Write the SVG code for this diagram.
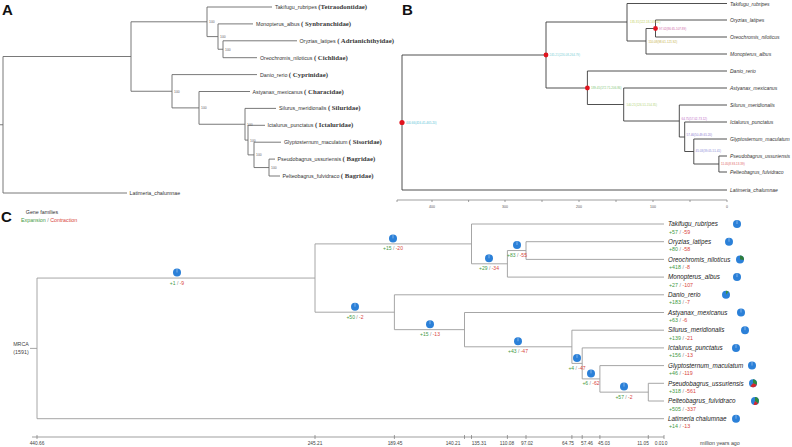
<svg xmlns="http://www.w3.org/2000/svg" width="792" height="447" viewBox="0 0 792 447">
<style>
.la{stroke:#6a6a6a;stroke-width:0.9;fill:none}
.lb{stroke:#3c3c3c;stroke-width:0.9;fill:none}
.lc{stroke:#9c9c9c;stroke-width:0.9;fill:none}
.ax{stroke:#777;stroke-width:0.7;fill:none}
.ttl{font-family:"Liberation Sans",Arial,sans-serif;font-weight:bold;font-size:15px;fill:#111}
.sa{font-family:"Liberation Sans",Arial,sans-serif;font-size:5.3px;fill:#333}
.fam{font-family:"Liberation Serif","Times New Roman",serif;font-weight:bold;font-size:6.8px;fill:#3a3a3a}
.bs{font-family:"Liberation Sans",Arial,sans-serif;font-size:3.4px;fill:#666}
.sb{font-family:"Liberation Sans",Arial,sans-serif;font-style:italic;font-size:5px;fill:#333}
.nl{font-family:"Liberation Sans",Arial,sans-serif;font-size:3px}
.axt{font-family:"Liberation Sans",Arial,sans-serif;font-size:3.5px;fill:#555;text-anchor:middle}
.sc{font-family:"Liberation Sans",Arial,sans-serif;font-style:italic;font-size:6.3px;fill:#222}
.cn{font-family:"Liberation Sans",Arial,sans-serif;font-size:5px;text-anchor:middle}
.ct{font-family:"Liberation Sans",Arial,sans-serif;font-size:5.3px}
.g{fill:#3f9a3f}
.r{fill:#d8453c}
.sl{fill:#888}
.axc{font-family:"Liberation Sans",Arial,sans-serif;font-size:4.8px;fill:#444;text-anchor:middle}
.pie{fill:#2b80d8}
.tk{stroke:#d6e7f8;stroke-width:0.5}
.dot{fill:#e0141e}
</style>
<defs>
<g id="pie"><circle r="4" class="pie"/><line x1="0" y1="0" x2="0" y2="-3.6" class="tk"/></g>
</defs>
<rect width="792" height="447" fill="#fff"/>

<!-- ================= PANEL A ================= -->
<text x="2" y="15" class="ttl">A</text>
<g id="a-edges">
<path class="la" d="M0 124.75H3M3 56.5V193M3 56.5H131M3 193H127
M131 21.8V91.25M131 21.8H207M207 7V36.6M207 7H272M207 36.6H218M218 23.9V49.25M218 23.9H253M218 49.25H223M223 40.8V57.7M223 40.8H297M223 57.7H257
M131 91.25H172M172 74.6V107.9M172 74.6H257M172 107.9H199M199 91.5V124.25M199 91.5H250M199 124.25H245M245 108.4V140.1M245 108.4H276M245 140.1H248M248 125.3V154.9M248 125.3H265M248 154.9H254M254 142.2V167.55M254 142.2H281M254 167.55H269M269 159.1V176M269 159.1H275M269 176H280"/>
</g>
<g id="a-support">
<text x="209" y="23.3" class="bs">100</text>
<text x="220" y="38.1" class="bs">100</text>
<text x="225" y="50.8" class="bs">100</text>
<text x="174" y="92.8" class="bs">100</text>
<text x="201" y="109.4" class="bs">100</text>
<text x="247" y="125.8" class="bs">100</text>
<text x="250" y="141.6" class="bs">100</text>
<text x="256" y="156.4" class="bs">100</text>
<text x="271" y="169" class="bs">100</text>
</g>
<g id="a-tips">
<g id="a-takifugu"><text x="275" y="9" class="sa">Takifugu_rubripes <tspan class="fam">(Tetraodontidae)</tspan></text></g>
<g id="a-monopterus"><text x="256" y="25.9" class="sa">Monopterus_albus <tspan class="fam">( Synbranchidae)</tspan></text></g>
<g id="a-oryzias"><text x="299.5" y="42.8" class="sa">Oryzias_latipes <tspan class="fam">( Adrianichthyidae)</tspan></text></g>
<g id="a-oreochromis"><text x="260" y="59.7" class="sa">Oreochromis_niloticus <tspan class="fam">( Cichlidae)</tspan></text></g>
<g id="a-danio"><text x="260" y="76.6" class="sa">Danio_rerio <tspan class="fam">( Cyprinidae)</tspan></text></g>
<g id="a-astyanax"><text x="252.5" y="93.5" class="sa">Astyanax_mexicanus <tspan class="fam">( Characidae)</tspan></text></g>
<g id="a-silurus"><text x="279" y="110.4" class="sa">Silurus_meridionalis <tspan class="fam">( Siluridae)</tspan></text></g>
<g id="a-ictalurus"><text x="267.5" y="127.3" class="sa">Ictalurus_punctatus <tspan class="fam">( Ictaluridae)</tspan></text></g>
<g id="a-glyptosternum"><text x="284" y="144.2" class="sa">Glyptosternum_maculatum <tspan class="fam">( Sisoridae)</tspan></text></g>
<g id="a-pseudobagrus"><text x="277.5" y="161.1" class="sa">Pseudobagrus_ussuriensis <tspan class="fam">( Bagridae)</tspan></text></g>
<g id="a-pelteobagrus"><text x="282.5" y="178" class="sa">Pelteobagrus_fulvidraco <tspan class="fam">( Bagridae)</tspan></text></g>
<g id="a-latimeria"><text x="129.5" y="195" class="sa">Latimeria_chalumnae</text></g>
</g>

<!-- ================= PANEL B ================= -->
<text x="402" y="15" class="ttl">B</text>
<g id="b-edges">
<path class="lb" d="M402 55V190M402 55H546M402 190H727
M546 22V88M546 22H627M627 3.5V41M627 3.5H727M627 41H646M646 28.5V54M646 28.5H655.5M655.5 20V37M655.5 20H727M655.5 37H727M646 54H727
M546 88H587.4M587.4 71V104.5M587.4 71H727M587.4 104.5H623.7M623.7 88V121M623.7 88H727M623.7 121H679.3M679.3 105V137M679.3 105H727M679.3 137H684.7M684.7 122V151.5M684.7 122H727M684.7 151.5H693.8M693.8 139V164M693.8 139H727M693.8 164H718.9M718.9 156V172M718.9 156H727M718.9 172H727"/>
</g>
<g id="b-nodes">
<circle cx="402" cy="122.5" r="2.6" class="dot"/>
<circle cx="546" cy="55" r="2.4" class="dot"/>
<circle cx="587.4" cy="88" r="2.4" class="dot"/>
<circle cx="655.5" cy="28.5" r="2.4" class="dot"/>
<text x="406" y="123.5" class="nl" fill="#5cc6d8">440.66(416.41-465.20)</text>
<text x="549.5" y="56" class="nl" fill="#7ccfd6">245.21(226.08-264.79)</text>
<text x="591" y="89" class="nl" fill="#86c77a">189.45(172.71-206.86)</text>
<text x="626.5" y="105.5" class="nl" fill="#b3d47c">140.21(126.51-154.35)</text>
<text x="630" y="23" class="nl" fill="#c2cf5e">135.31(122.18-149.02)</text>
<text x="648.5" y="42.5" class="nl" fill="#c6b14c">110.08(98.61-121.92)</text>
<text x="659" y="29.5" class="nl" fill="#cf67a8">97.02(86.65-107.89)</text>
<text x="681.5" y="120" class="nl" fill="#c070c8">64.75(57.02-73.12)</text>
<text x="686.5" y="136" class="nl" fill="#8e80d2">57.46(50.49-65.20)</text>
<text x="695.5" y="151.5" class="nl" fill="#8a8ad6">45.03(39.05-51.41)</text>
<text x="721" y="164.5" class="nl" fill="#e06262">11.05(8.93-13.39)</text>
</g>
<g id="b-tips">
<text x="730" y="5.5" class="sb">Takifugu_rubripes</text>
<text x="730" y="22" class="sb">Oryzias_latipes</text>
<text x="730" y="39" class="sb">Oreochromis_niloticus</text>
<text x="730" y="56" class="sb">Monopterus_albus</text>
<text x="730" y="73" class="sb">Danio_rerio</text>
<text x="730" y="90" class="sb">Astyanax_mexicanus</text>
<text x="730" y="107" class="sb">Silurus_meridionalis</text>
<text x="730" y="124" class="sb">Ictalurus_punctatus</text>
<text x="730" y="141" class="sb">Glyptosternum_maculatum</text>
<text x="730" y="158" class="sb">Pseudobagrus_ussuriensis</text>
<text x="730" y="174" class="sb">Pelteobagrus_fulvidraco</text>
<text x="730" y="192" class="sb">Latimeria_chalumnae</text>
</g>
<g id="b-axis">
<path class="ax" d="M397 200H727M397 200V202M432 200V202M468.6 200V202M505 200V202M542 200V202M579 200V202M616 200V202M653 200V202M690 200V202M727 200V202"/>
<text x="432" y="208" class="axt">400</text>
<text x="505" y="208" class="axt">300</text>
<text x="579" y="208" class="axt">200</text>
<text x="653" y="208" class="axt">100</text>
<text x="727" y="208" class="axt">0</text>
</g>

<!-- ================= PANEL C ================= -->
<text x="1" y="222" class="ttl" font-size="16">C</text>
<g id="c-legend">
<text x="42" y="214" class="ct" text-anchor="middle" fill="#333" font-size="4.8">Gene families</text>
<text x="21" y="221.5" class="ct"><tspan class="g">Expansion</tspan><tspan class="sl"> / </tspan><tspan class="r">Contraction</tspan></text>
</g>
<g id="c-edges">
<path class="lc" d="M30 348.4H37M37 278.05V418.7M37 278.05H315M37 418.7H664
M315 243.9V312.2M315 243.9H471.5M471.5 224V263.8M471.5 224H664M471.5 263.8H507.4M507.4 250.55V277.1M507.4 250.55H526M526 241.7V259.4M526 241.7H664M526 259.4H664M507.4 277.1H664
M315 312.2H394.4M394.4 294.8V329.65M394.4 294.8H664M394.4 329.65H464.5M464.5 312.5V346.8M464.5 312.5H664M464.5 346.8H571.9M571.9 330.2V363.4M571.9 330.2H664M571.9 363.4H582.2M582.2 347.9V378.9M582.2 347.9H664M582.2 378.9H599.9M599.9 365.6V392.15M599.9 365.6H664M599.9 392.15H648.3M648.3 383.3V401M648.3 383.3H664M648.3 401H664"/>
</g>
<g id="c-root"><text x="21" y="346" class="ct" text-anchor="middle" fill="#444" font-size="5">MRCA</text><text x="21" y="354" class="ct" text-anchor="middle" fill="#444" font-size="5">(1591)</text></g>
<g id="c-branch-events">
<use href="#pie" x="177" y="272.5"/><text x="177" y="284.5" class="cn"><tspan class="g">+1</tspan><tspan class="sl"> / </tspan><tspan class="r">-9</tspan></text>
<use href="#pie" x="393" y="238.4"/><text x="393" y="250.4" class="cn"><tspan class="g">+15</tspan><tspan class="sl"> / </tspan><tspan class="r">-20</tspan></text>
<use href="#pie" x="355" y="306.7"/><text x="355" y="318.7" class="cn"><tspan class="g">+50</tspan><tspan class="sl"> / </tspan><tspan class="r">-2</tspan></text>
<use href="#pie" x="489" y="258.3"/><text x="489" y="270.3" class="cn"><tspan class="g">+29</tspan><tspan class="sl"> / </tspan><tspan class="r">-34</tspan></text>
<use href="#pie" x="517" y="245"/><text x="517" y="257" class="cn"><tspan class="g">+83</tspan><tspan class="sl"> / </tspan><tspan class="r">-55</tspan></text>
<use href="#pie" x="430" y="324.2"/><text x="430" y="336.2" class="cn"><tspan class="g">+15</tspan><tspan class="sl"> / </tspan><tspan class="r">-13</tspan></text>
<use href="#pie" x="518" y="341.3"/><text x="518" y="353.3" class="cn"><tspan class="g">+43</tspan><tspan class="sl"> / </tspan><tspan class="r">-47</tspan></text>
<use href="#pie" x="577" y="357.9"/><text x="577" y="369.9" class="cn"><tspan class="g">+4</tspan><tspan class="sl"> / </tspan><tspan class="r">-47</tspan></text>
<use href="#pie" x="591" y="373.4"/><text x="591" y="385.4" class="cn"><tspan class="g">+6</tspan><tspan class="sl"> / </tspan><tspan class="r">-62</tspan></text>
<use href="#pie" x="624" y="386.6"/><text x="624" y="398.6" class="cn"><tspan class="g">+57</tspan><tspan class="sl"> / </tspan><tspan class="r">-2</tspan></text>
</g>
<g id="c-tips">
<g id="c-takifugu"><text x="668" y="226.2" class="sc">Takifugu_rubripes</text><text x="669" y="233.5" class="ct"><tspan class="g">+57</tspan><tspan class="sl"> / </tspan><tspan class="r">-59</tspan></text><use href="#pie" x="737" y="224"/></g>
<g id="c-oryzias"><text x="668" y="243.9" class="sc">Oryzias_latipes</text><text x="669" y="251.2" class="ct"><tspan class="g">+80</tspan><tspan class="sl"> / </tspan><tspan class="r">-58</tspan></text><use href="#pie" x="729" y="241.7"/></g>
<g id="c-oreochromis"><text x="668" y="261.6" class="sc">Oreochromis_niloticus</text><text x="669" y="268.9" class="ct"><tspan class="g">+418</tspan><tspan class="sl"> / </tspan><tspan class="r">-8</tspan></text><circle cx="740" cy="259.4" r="4" class="pie"/><path d="M740 259.4L740 255.4A4 4 0 0 1 743.94 260.1Z" fill="#2f7d3a"/></g>
<g id="c-monopterus"><text x="668" y="279.3" class="sc">Monopterus_albus</text><text x="669" y="286.6" class="ct"><tspan class="g">+27</tspan><tspan class="sl"> / </tspan><tspan class="r">-107</tspan></text><use href="#pie" x="737" y="277.1"/></g>
<g id="c-danio"><text x="668" y="297" class="sc">Danio_rerio</text><text x="669" y="304.3" class="ct"><tspan class="g">+183</tspan><tspan class="sl"> / </tspan><tspan class="r">-7</tspan></text><circle cx="726" cy="294.8" r="4" class="pie"/><path d="M726 294.8L726 290.8A4 4 0 0 1 728.57 291.74Z" fill="#3a8f45"/></g>
<g id="c-astyanax"><text x="668" y="314.7" class="sc">Astyanax_mexicanus</text><text x="669" y="322" class="ct"><tspan class="g">+63</tspan><tspan class="sl"> / </tspan><tspan class="r">-6</tspan></text><use href="#pie" x="741" y="312.5"/></g>
<g id="c-silurus"><text x="668" y="332.4" class="sc">Silurus_meridionalis</text><text x="669" y="339.7" class="ct"><tspan class="g">+139</tspan><tspan class="sl"> / </tspan><tspan class="r">-21</tspan></text><use href="#pie" x="745" y="330.2"/></g>
<g id="c-ictalurus"><text x="668" y="350.1" class="sc">Ictalurus_punctatus</text><text x="669" y="357.4" class="ct"><tspan class="g">+156</tspan><tspan class="sl"> / </tspan><tspan class="r">-13</tspan></text><use href="#pie" x="736" y="347.9"/></g>
<g id="c-glyptosternum"><text x="668" y="367.8" class="sc">Glyptosternum_maculatum</text><text x="669" y="375.1" class="ct"><tspan class="g">+46</tspan><tspan class="sl"> / </tspan><tspan class="r">-119</tspan></text><use href="#pie" x="752" y="365.6"/></g>
<g id="c-pseudobagrus"><text x="668" y="385.5" class="sc">Pseudobagrus_ussuriensis</text><text x="669" y="392.8" class="ct"><tspan class="g">+318</tspan><tspan class="sl"> / </tspan><tspan class="r">-561</tspan></text><circle cx="753" cy="383.3" r="4" class="pie"/><path d="M753 383.3L753 379.3A4 4 0 0 1 756.76 384.67Z" fill="#2f8a3a"/><path d="M753 383.3L756.76 384.67A4 4 0 0 1 750.43 386.36Z" fill="#d7262b"/></g>
<g id="c-pelteobagrus"><text x="668" y="403.2" class="sc">Pelteobagrus_fulvidraco</text><text x="669" y="410.5" class="ct"><tspan class="g">+505</tspan><tspan class="sl"> / </tspan><tspan class="r">-337</tspan></text><circle cx="755" cy="401" r="4" class="pie"/><path d="M755 401L755 397A4 4 0 0 1 758.06 403.57Z" fill="#2f8a3a"/><path d="M755 401L758.06 403.57A4 4 0 0 1 753.63 404.76Z" fill="#d7262b"/></g>
<g id="c-latimeria"><text x="668" y="420.9" class="sc">Latimeria chalumnae</text><text x="669" y="428.2" class="ct"><tspan class="g">+14</tspan><tspan class="sl"> / </tspan><tspan class="r">-13</tspan></text><use href="#pie" x="736" y="418.7"/></g>
</g>
<g id="c-axis">
<path class="ax" d="M32 437H664M37 435V439M315 435V439M394.4 435V439M464.5 435V439M471.5 435V439M507.4 435V439M526 435V439M571.9 435V439M582.2 435V439M599.9 435V439M648.3 435V439M664 435V439"/>
<text x="37" y="444.8" class="axc">440.66</text>
<text x="315" y="444.8" class="axc">245.21</text>
<text x="395" y="444.8" class="axc">189.45</text>
<text x="453" y="444.8" class="axc">140.21</text>
<text x="479" y="444.8" class="axc">135.31</text>
<text x="507" y="444.8" class="axc">110.08</text>
<text x="527" y="444.8" class="axc">97.02</text>
<text x="568" y="444.8" class="axc">64.75</text>
<text x="587" y="444.8" class="axc">57.46</text>
<text x="604" y="444.8" class="axc">45.03</text>
<text x="643" y="444.8" class="axc">11.05</text>
<text x="659.5" y="444.8" class="axc">0.01</text>
<text x="666" y="444.8" class="axc">0</text>
<text x="700" y="444.8" class="ct" fill="#444">million years ago</text>
</g>
</svg>
